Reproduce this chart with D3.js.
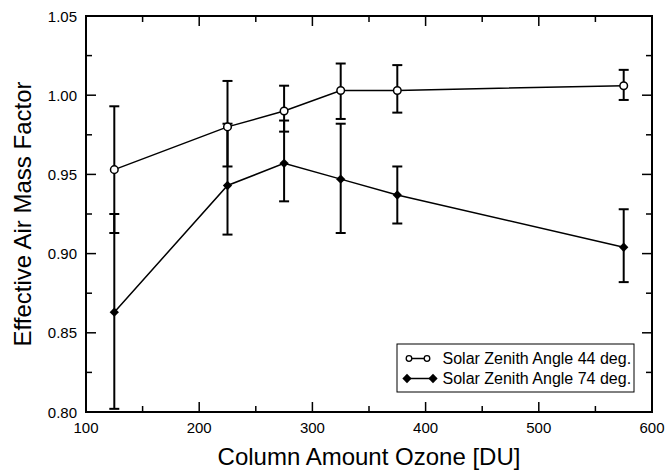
<!DOCTYPE html>
<html>
<head>
<meta charset="utf-8">
<script src="https://cdn.jsdelivr.net/npm/d3@7"></script>
<style>
  body { margin: 0; background: #fff; }
  svg { display: block; font-family: Arial, "Liberation Sans", Helvetica, sans-serif; }
</style>
</head>
<body>
<svg id="chart" width="667" height="471"></svg>
<script>
// data
const ozone = [125, 225, 275, 325, 375, 575]
const amf44 = [0.953, 0.980, 0.990, 1.003, 1.003, 1.006]
const amf44Lo = [0.913, 0.955, 0.977, 0.985, 0.989, 0.997]
const amf44Hi = [0.993, 1.009, 1.006, 1.020, 1.019, 1.016]
const amf74 = [0.863, 0.943, 0.957, 0.947, 0.937, 0.904]
const amf74Lo = [0.802, 0.912, 0.933, 0.913, 0.919, 0.882]
const amf74Hi = [0.925, 0.982, 0.984, 0.982, 0.955, 0.928]
const xTicks = [100, 200, 300, 400, 500, 600]
const yTicks = [0.80, 0.85, 0.90, 0.95, 1.00, 1.05]
const legendLabels = ["Solar Zenith Angle 44 deg.", "Solar Zenith Angle 74 deg."]

const svg = d3.select("#chart")
const pLeft = 86, pTop = 16, pRight = 652, pBottom = 412

const x = d3.scaleLinear().domain([100, 600]).range([pLeft, pRight])
const y = d3.scaleLinear().domain([0.80, 1.05]).range([pBottom, pTop])

const xMinor = d3.range(150, 600, 100)
const yMinor = d3.range(0.825, 1.05, 0.05)

// ticks, inward on all four sides
const ticks = svg.append("g").attr("stroke", "#000").attr("stroke-width", 1.5)
xTicks.concat(xMinor).forEach((v, i) => {
  const len = i < xTicks.length ? 10 : 6
  ticks.append("line").attr("x1", x(v)).attr("x2", x(v)).attr("y1", pBottom).attr("y2", pBottom - len)
  ticks.append("line").attr("x1", x(v)).attr("x2", x(v)).attr("y1", pTop).attr("y2", pTop + len)
})
yTicks.concat(yMinor).forEach((v, i) => {
  const len = i < yTicks.length ? 10 : 6
  ticks.append("line").attr("y1", y(v)).attr("y2", y(v)).attr("x1", pLeft).attr("x2", pLeft + len)
  ticks.append("line").attr("y1", y(v)).attr("y2", y(v)).attr("x1", pRight).attr("x2", pRight - len)
})

// tick labels
svg.append("g").selectAll("text").data(xTicks).join("text")
  .attr("x", d => x(d)).attr("y", 433)
  .attr("text-anchor", "middle").attr("font-size", 15)
  .text(d => d)
svg.append("g").selectAll("text").data(yTicks).join("text")
  .attr("x", 77).attr("y", d => y(d) + 5.5)
  .attr("text-anchor", "end").attr("font-size", 15)
  .text(d => d3.format(".2f")(d))

// axis titles
svg.append("text").attr("x", (pLeft + pRight) / 2).attr("y", 465)
  .attr("text-anchor", "middle").attr("font-size", 24)
  .text("Column Amount Ozone [DU]")
svg.append("text").attr("transform", `translate(31,${(pTop + pBottom) / 2}) rotate(-90)`)
  .attr("text-anchor", "middle").attr("font-size", 24)
  .text("Effective Air Mass Factor")

// error bars
function errBars(lo, hi) {
  const g = svg.append("g").attr("stroke", "#000").attr("stroke-width", 2)
  ozone.forEach((o, i) => {
    g.append("line").attr("x1", x(o)).attr("x2", x(o)).attr("y1", y(lo[i])).attr("y2", y(hi[i]))
    ;[lo[i], hi[i]].forEach(v => {
      g.append("line").attr("x1", x(o) - 5).attr("x2", x(o) + 5).attr("y1", y(v)).attr("y2", y(v))
    })
  })
}
errBars(amf44Lo, amf44Hi)
errBars(amf74Lo, amf74Hi)

const line = d3.line().x((d, i) => x(ozone[i])).y(d => y(d))
svg.append("path").datum(amf44).attr("d", line)
  .attr("fill", "none").attr("stroke", "#000").attr("stroke-width", 1.5)
svg.append("path").datum(amf74).attr("d", line)
  .attr("fill", "none").attr("stroke", "#000").attr("stroke-width", 1.5)

const diamond = d3.symbol().type(d3.symbolDiamond2).size(55)

svg.append("g").selectAll("circle").data(amf44).join("circle")
  .attr("cx", (d, i) => x(ozone[i])).attr("cy", d => y(d)).attr("r", 3.8)
  .attr("fill", "#fff").attr("stroke", "#000").attr("stroke-width", 1.5)
svg.append("g").selectAll("path").data(amf74).join("path")
  .attr("transform", (d, i) => `translate(${x(ozone[i])},${y(d)})`)
  .attr("d", diamond).attr("fill", "#000")

// frame
svg.append("rect").attr("x", pLeft).attr("y", pTop)
  .attr("width", pRight - pLeft).attr("height", pBottom - pTop)
  .attr("fill", "none").attr("stroke", "#000").attr("stroke-width", 2)

// legend
const lg = svg.append("g")
lg.append("rect").attr("x", 397).attr("y", 344).attr("width", 237).attr("height", 48)
  .attr("fill", "#fff").attr("stroke", "#000").attr("stroke-width", 1)
lg.append("line").attr("x1", 409).attr("x2", 427).attr("y1", 358.5).attr("y2", 358.5)
  .attr("stroke", "#000").attr("stroke-width", 1.5)
;[409, 427].forEach(cx => {
  lg.append("circle").attr("cx", cx).attr("cy", 358.5).attr("r", 2.8)
    .attr("fill", "#fff").attr("stroke", "#000").attr("stroke-width", 1.3)
})
lg.append("line").attr("x1", 407).attr("x2", 433).attr("y1", 378.5).attr("y2", 378.5)
  .attr("stroke", "#000").attr("stroke-width", 1.5)
;[407, 433].forEach(cx => {
  lg.append("path").attr("transform", `translate(${cx},378.5)`).attr("d", diamond).attr("fill", "#000")
})
lg.selectAll("text.lab").data(legendLabels).join("text")
  .attr("x", 442.5).attr("y", (d, i) => 364 + i * 20)
  .attr("font-size", 16)
  .text(d => d)
</script>
</body>
</html>
